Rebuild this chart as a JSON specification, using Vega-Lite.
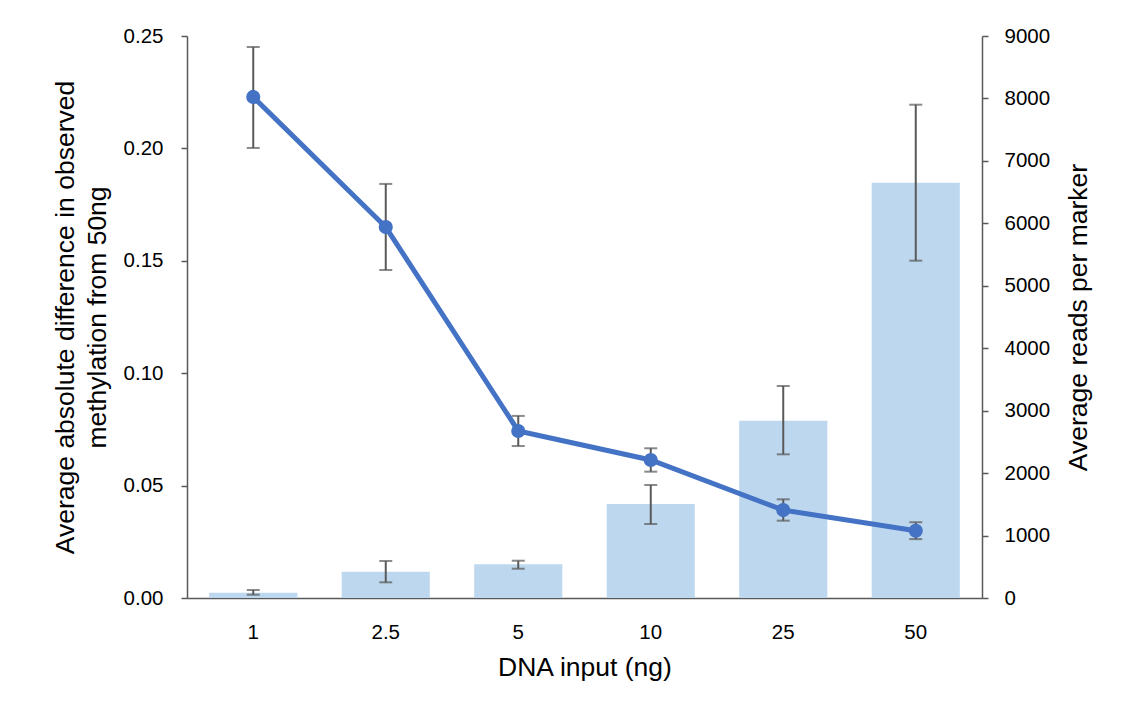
{
  "$schema": "https://vega.github.io/schema/vega-lite/v6.json",
  "width": 795,
  "height": 562,
  "autosize": {"type": "none"},
  "padding": {"left": 187, "top": 36, "right": 146, "bottom": 118},
  "background": "white",
  "config": {
    "view": {"stroke": null},
    "font": "Liberation Sans",
    "axis": {
      "labelFont": "Liberation Sans",
      "titleFont": "Liberation Sans",
      "labelFontSize": 20.5,
      "titleFontSize": 26.5,
      "titleFontWeight": "normal",
      "labelColor": "#000000",
      "titleColor": "#000000",
      "domainColor": "#595959",
      "tickColor": "#595959",
      "domainWidth": 1.5,
      "tickWidth": 1.5,
      "grid": false
    }
  },
  "data": {
    "values": [
      {"dna": "1", "meth": 0.2229, "meth_lo": 0.2002, "meth_hi": 0.2451, "reads": 85, "reads_lo": 53, "reads_hi": 128},
      {"dna": "2.5", "meth": 0.165, "meth_lo": 0.1459, "meth_hi": 0.1842, "reads": 421, "reads_lo": 251, "reads_hi": 593},
      {"dna": "5", "meth": 0.0743, "meth_lo": 0.0676, "meth_hi": 0.081, "reads": 540, "reads_lo": 469, "reads_hi": 597},
      {"dna": "10", "meth": 0.0614, "meth_lo": 0.0562, "meth_hi": 0.0666, "reads": 1505, "reads_lo": 1185, "reads_hi": 1810},
      {"dna": "25", "meth": 0.0391, "meth_lo": 0.0344, "meth_hi": 0.0439, "reads": 2840, "reads_lo": 2301, "reads_hi": 3395},
      {"dna": "50", "meth": 0.0299, "meth_lo": 0.0262, "meth_hi": 0.0337, "reads": 6651, "reads_lo": 5402, "reads_hi": 7900}
    ]
  },
  "encoding": {
    "x": {
      "field": "dna",
      "type": "ordinal",
      "sort": null,
      "scale": {"paddingInner": 0.335, "paddingOuter": 0.1675},
      "axis": {"title": "DNA input (ng)", "labelAngle": 0, "ticks": false, "labelPadding": 24, "titlePadding": 12}
    }
  },
  "layer": [
    {
      "encoding": {
        "y": {
          "field": "reads",
          "type": "quantitative",
          "scale": {"domain": [0, 9000], "nice": false, "zero": true},
          "axis": {
            "orient": "right",
            "title": "Average reads per marker",
            "titleAngle": 270,
            "titleBaseline": "top",
            "values": [0, 1000, 2000, 3000, 4000, 5000, 6000, 7000, 8000, 9000],
            "format": "d",
            "tickSize": 6,
            "labelPadding": 16,
            "titlePadding": 16
          }
        }
      },
      "layer": [
        {"mark": {"type": "bar", "color": "#BDD7EE"}},
        {"mark": {"type": "rule", "color": "#595959", "strokeWidth": 2}, "encoding": {"y": {"field": "reads_lo", "type": "quantitative"}, "y2": {"field": "reads_hi"}}},
        {"mark": {"type": "tick", "color": "#595959", "thickness": 2, "size": 13}, "encoding": {"y": {"field": "reads_lo", "type": "quantitative"}}},
        {"mark": {"type": "tick", "color": "#595959", "thickness": 2, "size": 13}, "encoding": {"y": {"field": "reads_hi", "type": "quantitative"}}}
      ]
    },
    {
      "encoding": {
        "y": {
          "field": "meth",
          "type": "quantitative",
          "scale": {"domain": [0, 0.25], "nice": false, "zero": true},
          "axis": {
            "orient": "left",
            "title": ["Average absolute difference in observed", "methylation from 50ng"],
            "values": [0, 0.05, 0.1, 0.15, 0.2, 0.25],
            "format": ".2f",
            "tickSize": 6,
            "labelPadding": 18,
            "titlePadding": 12,
            "titleLineHeight": 32
          }
        }
      },
      "layer": [
        {"mark": {"type": "line", "color": "#4472C4", "strokeWidth": 5}},
        {"mark": {"type": "rule", "color": "#595959", "strokeWidth": 2}, "encoding": {"y": {"field": "meth_lo", "type": "quantitative"}, "y2": {"field": "meth_hi"}}},
        {"mark": {"type": "tick", "color": "#595959", "thickness": 2, "size": 13}, "encoding": {"y": {"field": "meth_lo", "type": "quantitative"}}},
        {"mark": {"type": "tick", "color": "#595959", "thickness": 2, "size": 13}, "encoding": {"y": {"field": "meth_hi", "type": "quantitative"}}},
        {"mark": {"type": "point", "filled": true, "opacity": 1, "color": "#4472C4", "size": 200}}
      ]
    }
  ],
  "resolve": {"scale": {"y": "independent"}}
}
